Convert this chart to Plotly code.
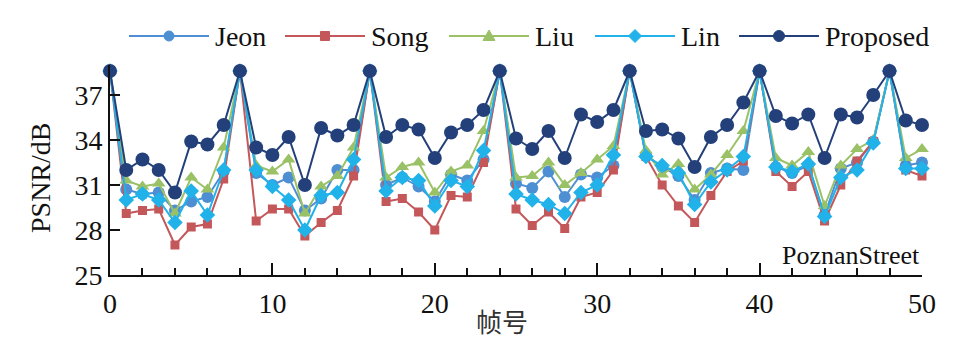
import plotly.graph_objects as go

frames = list(range(0, 51))

jeon = [38.6,
        30.7, 30.4, 30.5, 29.3, 29.9, 30.2, 31.9, 38.6,
        31.8, 31.0, 31.5, 29.3, 30.1, 32.0, 32.0, 38.6,
        31.0, 31.5, 30.9, 29.9, 31.7, 31.3, 32.7, 38.6,
        31.1, 30.8, 31.9, 30.2, 31.7, 31.5, 32.3, 38.6,
        33.0, 32.2, 31.6, 30.0, 31.8, 32.1, 32.0, 38.6,
        32.2, 31.8, 32.3, 29.0, 32.1, 32.5, 33.9, 38.6, 32.3, 32.5]

song = [38.6,
        29.1, 29.3, 29.4, 27.0, 28.2, 28.4, 31.4, 38.6,
        28.6, 29.4, 29.4, 27.6, 28.5, 29.3, 31.6, 38.6,
        29.9, 30.1, 29.2, 28.0, 30.3, 30.2, 32.5, 38.6,
        29.4, 28.3, 29.2, 28.1, 30.2, 30.5, 32.0, 38.6,
        32.9, 31.0, 29.6, 28.5, 30.3, 31.9, 32.6, 38.6,
        31.9, 30.9, 31.9, 28.6, 31.0, 32.6, 33.9, 38.6, 32.0, 31.6]

liu = [38.6,
       31.3, 30.9, 31.1, 29.1, 31.5, 30.7, 33.5, 38.6,
       32.3, 31.9, 32.7, 29.1, 30.9, 31.6, 33.5, 38.6,
       31.5, 32.2, 32.5, 30.5, 31.9, 32.3, 34.6, 38.6,
       31.5, 31.6, 32.5, 31.0, 31.8, 32.7, 33.6, 38.6,
       33.3, 31.7, 32.4, 30.7, 31.7, 33.0, 34.6, 38.6,
       32.8, 32.3, 33.2, 29.6, 32.3, 33.4, 34.0, 38.6, 32.8, 33.4]

lin = [38.6,
       30.0, 30.4, 30.0, 28.5, 30.6, 29.0, 32.0, 38.6,
       32.0, 30.9, 30.0, 28.0, 30.3, 30.5, 32.7, 38.6,
       30.6, 31.5, 31.3, 29.6, 31.3, 30.9, 33.3, 38.6,
       30.4, 30.0, 29.7, 29.1, 30.5, 31.0, 33.0, 38.6,
       32.9, 32.3, 31.8, 29.7, 31.2, 32.0, 32.9, 38.6,
       32.2, 31.9, 32.4, 28.9, 31.5, 32.0, 33.8, 38.6, 32.1, 32.1]

proposed = [38.6,
            32.0, 32.7, 32.0, 30.5, 33.9, 33.7, 35.0, 38.6,
            33.5, 33.0, 34.2, 31.0, 34.8, 34.3, 35.0, 38.6,
            34.2, 35.0, 34.7, 32.8, 34.5, 35.0, 36.0, 38.6,
            34.1, 33.4, 34.6, 32.8, 35.7, 35.2, 36.0, 38.6,
            34.6, 34.7, 34.1, 32.2, 34.2, 35.0, 36.5, 38.6,
            35.6, 35.1, 35.7, 32.8, 35.7, 35.5, 37.0, 38.6, 35.3, 35.0]

series_names = ["Jeon", "Song", "Liu", "Lin", "Proposed"]
y_ticks = [25, 28, 31, 34, 37]
x_ticks = [0, 10, 20, 30, 40, 50]

# styling (kept separate from data)
styles = {
    "Jeon": dict(color="#4E8FD3", symbol="circle", size=12),
    "Song": dict(color="#C4575A", symbol="square", size=9),
    "Liu": dict(color="#9BC167", symbol="triangle-up", size=12),
    "Lin": dict(color="#22B2EA", symbol="diamond", size=12),
    "Proposed": dict(color="#23407A", symbol="circle", size=14),
}
values = {"Jeon": jeon, "Song": song, "Liu": liu, "Lin": lin, "Proposed": proposed}

FONT = "Liberation Serif, Times New Roman, serif"
W, H = 956, 355
OFF = 8  # page body margin offset in the screenshot
PLOT_LEFT, PLOT_RIGHT, PLOT_TOP, PLOT_BOTTOM = 110, 922, 65, 275  # screenshot px
PW, PH = PLOT_RIGHT - PLOT_LEFT, PLOT_BOTTOM - PLOT_TOP
L = PLOT_LEFT - OFF
T = PLOT_TOP - OFF
R = W - L - PW
B = H - T - PH


def px_x(px):
    return (px - PLOT_LEFT) / PW


def px_y(py):
    return (PLOT_BOTTOM - py) / PH


fig = go.Figure()
for name in series_names:
    st = styles[name]
    fig.add_trace(go.Scatter(
        x=frames, y=values[name], name=name, mode="lines+markers",
        line=dict(color=st["color"], width=2),
        marker=dict(color=st["color"], symbol=st["symbol"], size=st["size"]),
        cliponaxis=False, showlegend=False,
    ))

# custom legend with long line samples, as in the reference
legend_line_start = {"Jeon": 129, "Song": 285, "Liu": 449, "Lin": 595, "Proposed": 739}
legend_line_len = 80
legend_y = 36
marker_paths = {
    "square": "M-4.5,-4.5 L4.5,-4.5 L4.5,4.5 L-4.5,4.5 Z",
    "triangle-up": "M-6,-4.5 L6,-4.5 L0,6 Z",
    "diamond": "M0,6.5 L6.5,0 L0,-6.5 L-6.5,0 Z",
}
shapes = []
annotations = []
for name in series_names:
    st = styles[name]
    x0 = legend_line_start[name]
    x1 = x0 + legend_line_len
    xc = (x0 + x1) / 2
    shapes.append(dict(type="line", xref="paper", yref="paper",
                       x0=px_x(x0), x1=px_x(x1), y0=px_y(legend_y), y1=px_y(legend_y),
                       line=dict(color=st["color"], width=2)))
    if st["symbol"] == "circle":
        r = 5 if name == "Jeon" else 5.5
        shapes.append(dict(type="circle", xref="paper", yref="paper",
                           xsizemode="pixel", ysizemode="pixel",
                           xanchor=px_x(xc), yanchor=px_y(legend_y),
                           x0=-r, x1=r, y0=-r, y1=r,
                           fillcolor=st["color"], line=dict(color=st["color"], width=1)))
    else:
        shapes.append(dict(type="path", xref="paper", yref="paper",
                           xsizemode="pixel", ysizemode="pixel",
                           xanchor=px_x(xc), yanchor=px_y(legend_y),
                           path=marker_paths[st["symbol"]],
                           fillcolor=st["color"], line=dict(color=st["color"], width=1)))
    annotations.append(dict(text=name, xref="paper", yref="paper",
                            x=px_x(x1 + 4), y=px_y(legend_y),
                            xanchor="left", yanchor="middle", showarrow=False,
                            font=dict(family=FONT, size=28, color="#111")))

annotations += [
    dict(text="帧号", xref="paper", yref="paper", x=px_x(502), y=px_y(320),
         xanchor="center", yanchor="middle", showarrow=False,
         font=dict(family="Noto Sans CJK SC", size=26, color="#333")),
    dict(text="PSNR/dB", xref="paper", yref="paper", x=px_x(40), y=px_y(178),
         xanchor="center", yanchor="middle", showarrow=False, textangle=-90,
         font=dict(family=FONT, size=28, color="#111")),
    dict(text="PoznanStreet", xref="paper", yref="paper", x=1.0, y=px_y(255),
         xanchor="right", yanchor="middle", showarrow=False,
         font=dict(family=FONT, size=26, color="#111")),
]

fig.update_layout(
    width=W, height=H,
    margin=dict(l=L, r=R, t=T, b=B, autoexpand=False),
    paper_bgcolor="white", plot_bgcolor="white",
    font=dict(family=FONT, size=28, color="#111"),
    showlegend=False,
    xaxis=dict(range=[0, 50], tickvals=x_ticks, ticktext=[str(v) for v in x_ticks],
               automargin=False,
               showgrid=False, zeroline=False, showline=True, linecolor="#111", linewidth=2,
               ticks="inside", ticklen=12, tickwidth=2, tickcolor="#111",
               minor=dict(dtick=2, ticks="inside", ticklen=7, tickwidth=2, tickcolor="#111"),
               tickfont=dict(family=FONT, size=28), ticklabelstandoff=2),
    yaxis=dict(range=[25, 39], tickvals=y_ticks, ticktext=[str(v) for v in y_ticks],
               automargin=False,
               showgrid=False, zeroline=False, showline=True, linecolor="#111", linewidth=2,
               ticks="inside", ticklen=10, tickwidth=2, tickcolor="#111",
               tickfont=dict(family=FONT, size=28)),
    shapes=shapes,
    annotations=annotations,
)

fig.write_html("out.html")
